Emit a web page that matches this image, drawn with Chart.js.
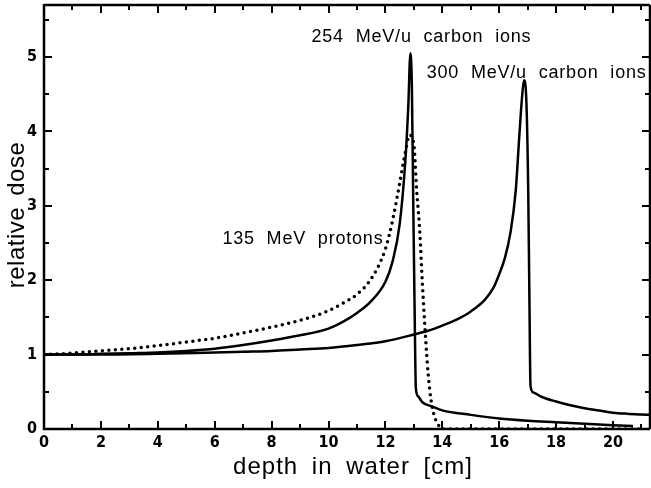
<!DOCTYPE html>
<html>
<head>
<meta charset="utf-8">
<script src="https://cdn.jsdelivr.net/npm/chart.js@4"></script>
<style>
  html, body { margin: 0; padding: 0; background: #fff; }
  #wrap { width: 651px; height: 488px; }
</style>
</head>
<body>
<div id="wrap"><canvas id="depthDose"></canvas></div>
<script>
// Depth-dose curves in water: protons vs. carbon ions

const depthTicks = [0, 2, 4, 6, 8, 10, 12, 14, 16, 18, 20];
const doseTicks = [0, 1, 2, 3, 4, 5];

// 135 MeV protons (dotted)
const protonDepth = [0, 1, 2, 3, 4, 5, 6, 7, 8, 9, 10, 10.5, 11, 11.5, 12, 12.25, 12.5, 12.7, 12.85,
  13.0, 13.1, 13.2, 13.3, 13.4, 13.5, 13.6, 13.7, 13.85, 14.0, 15, 16, 17, 18, 19, 20, 21];
const protonDose = [1.0, 1.02, 1.05, 1.08, 1.12, 1.17, 1.22, 1.29, 1.37, 1.46, 1.59, 1.69, 1.81, 2.02, 2.42, 2.8, 3.3, 3.72, 3.95,
  3.82, 3.2, 2.7, 1.95, 1.3, 0.75, 0.4, 0.2, 0.06, 0, 0, 0, 0, 0, 0, 0, 0];

// 254 MeV/u carbon ions
const c254Depth = [0, 1, 2, 3, 4, 5, 6, 7, 8, 9, 10, 10.5, 11, 11.5, 12, 12.25, 12.5, 12.7, 12.8, 12.88,
  12.93, 12.98, 13.03, 13.07, 13.15, 13.3, 13.66, 14, 15, 16, 17, 18, 19, 20, 20.7];
const c254Dose = [1.0, 1.0, 1.01, 1.02, 1.03, 1.05, 1.08, 1.13, 1.19, 1.26, 1.35, 1.44, 1.56, 1.72, 1.98, 2.25, 2.75, 3.6, 4.3, 5.05,
  4.6, 3.0, 1.5, 0.55, 0.44, 0.36, 0.3, 0.25, 0.19, 0.14, 0.11, 0.09, 0.07, 0.05, 0.04];

// 300 MeV/u carbon ions
const c300Depth = [0, 2, 4, 6, 7, 8, 9, 10, 11, 12, 13, 13.5, 14, 14.5, 15, 15.5, 15.8, 16, 16.2, 16.4, 16.58, 16.7, 16.8, 16.87,
  16.95, 17.02, 17.06, 17.1, 17.2, 17.5, 18, 18.5, 19, 19.5, 20, 20.5, 21, 21.3];
const c300Dose = [1.0, 1.0, 1.01, 1.03, 1.04, 1.05, 1.07, 1.09, 1.13, 1.18, 1.27, 1.32, 1.39, 1.47, 1.58, 1.74, 1.9, 2.08, 2.3, 2.65, 3.2, 3.9, 4.45, 4.69,
  4.45, 3.2, 1.8, 0.58, 0.49, 0.43, 0.37, 0.32, 0.28, 0.25, 0.22, 0.205, 0.195, 0.19];

const curveLabels = ['254 MeV/u carbon ions', '300 MeV/u carbon ions', '135 MeV protons'];
const xTitle = 'depth in water [cm]';
const yTitle = 'relative dose';

const FONT = '"Liberation Sans", Arial, sans-serif';
const TICK_FONT = '"Liberation Sans Narrow", "DejaVu Sans Condensed", sans-serif';

const toPoints = (xs, ys) => xs.map((x, i) => ({ x, y: ys[i] }));

// frame + inward tick marks on all four sides
const framePlugin = {
  id: 'frame',
  afterDatasetsDraw(chart) {
    const { ctx, chartArea: a, scales: { x, y } } = chart;
    ctx.save();
    ctx.strokeStyle = '#000';
    ctx.lineCap = 'butt';

    ctx.lineWidth = 2;
    for (let v = x.min; v <= x.max + 1e-6; v += 1) {
      const px = Math.round(x.getPixelForValue(v));
      const len = v % 2 === 0 ? 8 : 5;
      ctx.beginPath();
      ctx.moveTo(px, a.bottom); ctx.lineTo(px, a.bottom - len);
      ctx.moveTo(px, a.top); ctx.lineTo(px, a.top + len);
      ctx.stroke();
    }
    for (let v = 0; v <= y.max + 1e-6; v += 0.5) {
      const py = Math.round(y.getPixelForValue(v));
      const len = v % 1 === 0 ? 8 : 5;
      ctx.beginPath();
      ctx.moveTo(a.left, py); ctx.lineTo(a.left + len, py);
      ctx.moveTo(a.right, py); ctx.lineTo(a.right - len, py);
      ctx.stroke();
    }

    ctx.lineWidth = 2.5;
    ctx.beginPath();
    ctx.moveTo(a.left, a.top); ctx.lineTo(a.right, a.top);
    ctx.moveTo(a.left, a.top - 1); ctx.lineTo(a.left, a.bottom);
    ctx.lineTo(a.right, a.bottom);
    ctx.moveTo(a.right, a.top); ctx.lineTo(a.right, a.bottom);
    ctx.stroke();
    ctx.restore();
  }
};

// curve captions beside the peaks, plus the two axis titles
const captionPlugin = {
  id: 'captions',
  afterDatasetsDraw(chart) {
    const { ctx, chartArea: a, scales: { x, y } } = chart;
    const spots = [[9.4, 5.2], [13.45, 4.72], [6.27, 2.49]];
    ctx.save();
    ctx.fillStyle = '#000';
    ctx.font = '18px ' + FONT;
    ctx.textBaseline = 'alphabetic';
    ctx.textAlign = 'left';
    ctx.letterSpacing = '0.8px';
    ctx.wordSpacing = '6px';
    curveLabels.forEach((t, i) => {
      ctx.fillText(t, x.getPixelForValue(spots[i][0]), y.getPixelForValue(spots[i][1]));
    });

    ctx.font = '24px ' + FONT;
    ctx.textAlign = 'center';
    ctx.letterSpacing = '1px';
    ctx.wordSpacing = '6px';
    ctx.fillText(xTitle, 353, 474);

    ctx.letterSpacing = '0.5px';
    ctx.wordSpacing = '4px';
    ctx.translate(24, (a.top + a.bottom) / 2 - 2);
    ctx.rotate(-Math.PI / 2);
    ctx.fillText(yTitle, 0, 0);
    ctx.restore();
  }
};

const solid = { borderColor: '#000', borderWidth: 2.5, pointRadius: 0, cubicInterpolationMode: 'monotone', fill: false };

new Chart(document.getElementById('depthDose'), {
  type: 'line',
  data: {
    datasets: [
      { ...solid, label: curveLabels[2], data: toPoints(protonDepth, protonDose),
        borderWidth: 3.5, borderDash: [0, 6.5], borderCapStyle: 'round' },
      { ...solid, label: curveLabels[0], data: toPoints(c254Depth, c254Dose) },
      { ...solid, label: curveLabels[1], data: toPoints(c300Depth, c300Dose) }
    ]
  },
  options: {
    responsive: true,
    maintainAspectRatio: false,
    animation: false,
    layout: { padding: { top: 5, right: 1, left: 0, bottom: 0 } },
    plugins: { legend: { display: false }, tooltip: { enabled: false } },
    scales: {
      x: {
        type: 'linear', min: 0, max: 21.3,
        afterBuildTicks: s => { s.ticks = depthTicks.map(v => ({ value: v })); },
        afterFit: s => { s.height = 59; s.paddingLeft = 0; s.paddingRight = 0; },
        grid: { display: false, drawTicks: false }, border: { display: false },
        ticks: { color: '#000', padding: 4, maxRotation: 0, autoSkip: false,
          font: { family: TICK_FONT, size: 16, weight: 'bold' } }
      },
      y: {
        type: 'linear', min: 0, max: 5.7,
        afterBuildTicks: s => { s.ticks = doseTicks.map(v => ({ value: v })); },
        afterFit: s => { s.width = 44; s.paddingTop = 0; s.paddingBottom = 0; },
        grid: { display: false, drawTicks: false }, border: { display: false },
        ticks: { color: '#000', padding: 7, font: { family: TICK_FONT, size: 16, weight: 'bold' } }
      }
    }
  },
  plugins: [framePlugin, captionPlugin]
});
</script>
</body>
</html>
